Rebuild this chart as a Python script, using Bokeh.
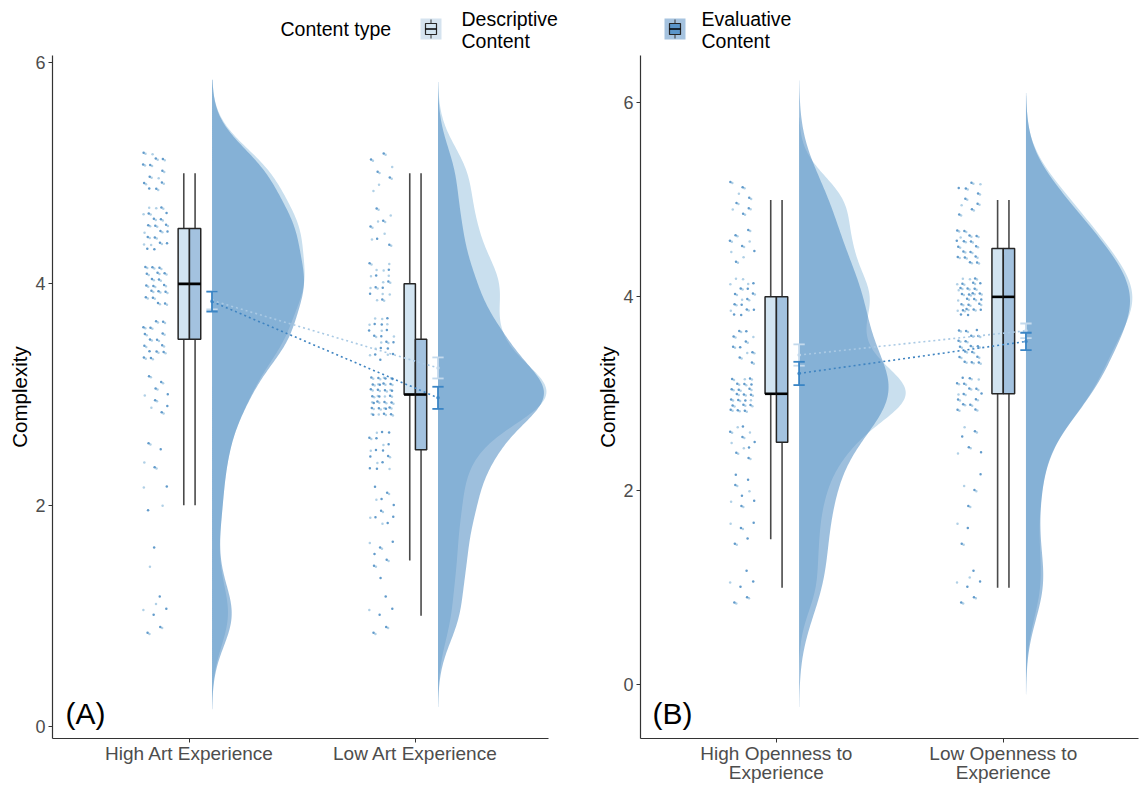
import numpy as np
from bokeh.plotting import figure
from bokeh.models import Range1d, FixedTicker, Label
from bokeh.layouts import column, row
from bokeh.embed import file_html
from bokeh.resources import INLINE
from bokeh.core.properties import value

FONT = "Liberation Sans"

# ---------------- data ----------------
levels = [1.0, 1.5, 2.0, 2.5, 3.0, 3.5, 4.0, 4.5, 5.0]

# Panel A
a_categories = ["High Art Experience", "Low Art Experience"]
a_desc_counts = [[4, 1, 2, 3, 7, 14, 18, 17, 12], [3, 4, 5, 7, 28, 12, 14, 8, 7]]
a_eval_counts = [[5, 1, 2, 3, 7, 15, 18, 16, 11], [5, 6, 8, 12, 26, 14, 8, 5, 4]]
# lower whisker, Q1, median, Q3, upper whisker
a_desc_box = [[2.0, 3.5, 4.0, 4.5, 5.0], [1.5, 3.0, 3.0, 4.0, 5.0]]
a_eval_box = [[2.0, 3.5, 4.0, 4.5, 5.0], [1.0, 2.5, 3.0, 3.5, 5.0]]
a_desc_mean = [3.85, 3.24]
a_desc_se = [0.08, 0.095]
a_eval_mean = [3.84, 2.97]
a_eval_se = [0.09, 0.10]

# Panel B
b_categories = ["High Openness to\nExperience", "Low Openness to\nExperience"]
b_desc_counts = [[3, 3, 4, 8, 20, 9, 12, 8, 8], [4, 2, 3, 4, 14, 16, 24, 16, 9]]
b_eval_counts = [[5, 4, 6, 7, 20, 9, 12, 6, 6], [5, 2, 3, 4, 14, 17, 23, 16, 8]]
b_desc_box = [[1.5, 3.0, 3.0, 4.0, 5.0], [1.0, 3.0, 4.0, 4.5, 5.0]]
b_eval_box = [[1.0, 2.5, 3.0, 4.0, 5.0], [1.0, 3.0, 4.0, 4.5, 5.0]]
b_desc_mean = [3.40, 3.65]
b_desc_se = [0.11, 0.075]
b_eval_mean = [3.21, 3.54]
b_eval_se = [0.12, 0.09]

y_ticks = [0, 2, 4, 6]
legend_title = "Content type"
legend_labels = [["Descriptive", "Content"], ["Evaluative", "Content"]]

# ---------------- styles ----------------
DESC_VIOLIN = "#c9dfee"
EVAL_VIOLIN = "#508cc2"
DESC_BOX = "#d2e4f1"
EVAL_BOX = "#a3c2df"
DESC_PT = "#9cc4e0"
EVAL_PT = "#2d79b9"
DESC_ERR = "#c3d9ec"
EVAL_ERR = "#3a85c5"
DESC_LINE = "#a9c9e4"
EVAL_LINE = "#3f84c1"


def nrd0(v):
    sd = np.std(v, ddof=1)
    q75, q25 = np.percentile(v, [75, 25])
    lo = min(sd, (q75 - q25) / 1.34)
    return 0.9 * lo * len(v) ** -0.2


def density(counts):
    vals = np.repeat(np.array(levels), counts)
    bw = nrd0(vals)
    grid = np.linspace(vals.min() - 3 * bw, vals.max() + 3 * bw, 300)
    z = (grid[:, None] - vals[None, :]) / bw
    d = np.exp(-0.5 * z * z).sum(axis=1) / (len(vals) * bw * np.sqrt(2 * np.pi))
    return grid, d


def jitter(center, counts, start):
    # deterministic (low-discrepancy) jitter for display only
    g = 1.32471795724474602596
    a1, a2 = 1 / g, 1 / (g * g)
    xs, ys = [], []
    k = start
    for lev, c in zip(levels, counts):
        for _ in range(c):
            k += 1
            u = (0.5 + a1 * k) % 1
            v = (0.5 + a2 * k) % 1
            xs.append(center - 0.15 + (u - 0.5) * 0.11)
            ys.append(lev + (v - 0.5) * 0.38)
    return xs, ys


def panel(cats, dcounts, ecounts, dbox, ebox, dmean, dse, emean, ese,
          xr, yr, width, bl, br, maxw, tag, tag_xy):
    p = figure(width=width, height=731, x_range=Range1d(*xr), y_range=Range1d(*yr),
               output_backend="svg", toolbar_location=None,
               min_border_left=bl, min_border_right=br, min_border_top=1,
               min_border_bottom=45)
    p.outline_line_color = None
    p.xgrid.visible = False
    p.ygrid.visible = False
    p.background_fill_color = "white"

    centers = [1, 2]
    dens = [[density(c) for c in dcounts], [density(c) for c in ecounts]]
    mx = max(d[1].max() for grp in dens for d in grp)
    scale = maxw / mx

    # violins
    for gi, (col, alpha) in enumerate([(DESC_VIOLIN, 1.0), (EVAL_VIOLIN, 0.56)]):
        for ci, c in enumerate(centers):
            grid, d = dens[gi][ci]
            base = c + 0.1
            p.harea(y=grid, x1=np.full_like(grid, base), x2=base + d * scale,
                    fill_color=col, fill_alpha=alpha)

    # points
    for ci, c in enumerate(centers):
        xs, ys = jitter(c, dcounts[ci], 0)
        p.scatter(xs, ys, size=2.5, fill_color=DESC_PT, line_color=None, fill_alpha=0.8)
        xs, ys = jitter(c, ecounts[ci], 700)
        p.scatter(xs, ys, size=2.5, fill_color=EVAL_PT, line_color=None, fill_alpha=0.75)

    # boxes
    for box, fill, off in [(dbox, DESC_BOX, -1), (ebox, EVAL_BOX, 1)]:
        for ci, c in enumerate(centers):
            lo, q1, med, q3, hi = box[ci]
            xm = c + off * 0.025
            p.segment(x0=[xm, xm], y0=[lo, q3], x1=[xm, xm], y1=[q1, hi],
                      line_color="#4a4a4a", line_width=1.6)
            left, right = (c - 0.05, c) if off < 0 else (c, c + 0.05)
            p.quad(left=[left], right=[right], bottom=[q1], top=[q3],
                   fill_color=fill, line_color="#262626", line_width=1.5)
            p.segment(x0=[left], y0=[med], x1=[right], y1=[med],
                      line_color="black", line_width=2.6)

    # connecting dotted lines
    ex = [c + 0.1 for c in centers]
    p.line(ex, dmean, line_color=DESC_LINE, line_width=1.6, line_dash="2 3")
    p.line(ex, emean, line_color=EVAL_LINE, line_width=1.6, line_dash="2 3")

    # error bars
    for means, ses, col in [(dmean, dse, DESC_ERR), (emean, ese, EVAL_ERR)]:
        lows = [m - s for m, s in zip(means, ses)]
        highs = [m + s for m, s in zip(means, ses)]
        p.segment(x0=ex, y0=lows, x1=ex, y1=highs, line_color=col, line_width=1.8)
        p.segment(x0=[x - 0.025 for x in ex], y0=lows, x1=[x + 0.025 for x in ex], y1=lows,
                  line_color=col, line_width=1.8)
        p.segment(x0=[x - 0.025 for x in ex], y0=highs, x1=[x + 0.025 for x in ex], y1=highs,
                  line_color=col, line_width=1.8)
        p.scatter(ex, means, size=3.5, fill_color=col, line_color=None)

    # axes
    p.xaxis.ticker = FixedTicker(ticks=centers)
    p.xaxis.major_label_overrides = {1: cats[0], 2: cats[1]}
    p.yaxis.ticker = FixedTicker(ticks=y_ticks)
    p.xaxis.minor_tick_line_color = None
    p.yaxis.minor_tick_line_color = None
    for ax in (p.xaxis, p.yaxis):
        ax.axis_line_color = "#333333"
        ax.axis_line_width = 1.2
        ax.major_tick_line_color = "#333333"
        ax.major_tick_in = 0
        ax.major_tick_out = 4
        ax.major_label_text_font = FONT
        ax.major_label_text_color = "#4d4d4d"
    p.xaxis.major_label_text_font_size = "19px"
    p.xaxis.major_label_text_line_height = 0.92
    p.xaxis.major_label_standoff = 0
    p.yaxis.major_label_text_font_size = "18px"
    p.yaxis.major_label_standoff = 3
    p.yaxis.axis_label = "Complexity"
    p.yaxis.axis_label_text_font = FONT
    p.yaxis.axis_label_text_font_size = "20.5px"
    p.yaxis.axis_label_text_font_style = "normal"
    p.yaxis.axis_label_text_color = "black"
    p.yaxis.axis_label_standoff = 1

    p.add_layout(Label(x=tag_xy[0], y=tag_xy[1], text=tag, text_font=FONT,
                       text_font_size="30px", text_color="black",
                       text_baseline="middle", text_align="left"))
    return p


pA = panel(a_categories, a_desc_counts, a_eval_counts, a_desc_box, a_eval_box,
           a_desc_mean, a_desc_se, a_eval_mean, a_eval_se,
           xr=(0.394, 2.589), yr=(-0.108, 6.063), width=590, bl=52, br=42,
           maxw=0.48, tag="(A)", tag_xy=(0.452, 0.117))
pB = panel(b_categories, b_desc_counts, b_eval_counts, b_desc_box, b_eval_box,
           b_desc_mean, b_desc_se, b_eval_mean, b_eval_se,
           xr=(0.401, 2.596), yr=(-0.556, 6.49), width=550, bl=50, br=2,
           maxw=0.47, tag="(B)", tag_xy=(0.454, -0.30))

# ---------------- legend strip ----------------
lg = figure(width=1140, height=54, x_range=Range1d(0, 1140), y_range=Range1d(54, 0),
            output_backend="svg", toolbar_location=None, min_border=0,
            x_axis_type=None, y_axis_type=None)
lg.outline_line_color = None
lg.xgrid.visible = False
lg.ygrid.visible = False
lg.text(x=[280], y=[28], text=[legend_title], text_font=value(FONT),
        text_font_size="19.5px", text_color="black", text_baseline="middle")
for kx, tx, bg, boxfill, labels in [(420, 461, "#d5e3ef", DESC_BOX, legend_labels[0]),
                                     (664, 701, "#a6c3df", "#5b95c9", legend_labels[1])]:
    lg.quad(left=[kx], right=[kx + 21], top=[18], bottom=[39], fill_color=bg, line_color=None)
    lg.segment(x0=[kx + 10.5], y0=[19], x1=[kx + 10.5], y1=[38], line_color="#333333", line_width=1)
    lg.quad(left=[kx + 5], right=[kx + 16], top=[23], bottom=[34], fill_color=boxfill,
            line_color="#262626", line_width=1.2)
    lg.segment(x0=[kx + 5], y0=[28.5], x1=[kx + 16], y1=[28.5], line_color="black", line_width=1.5)
    lg.text(x=[tx, tx], y=[18, 40], text=labels, text_font=value(FONT),
            text_font_size="19.5px", text_color="black", text_baseline="middle")

layout = column(lg, row(pA, pB, spacing=0), spacing=0)
open("out.html", "w").write(file_html(layout, INLINE))
